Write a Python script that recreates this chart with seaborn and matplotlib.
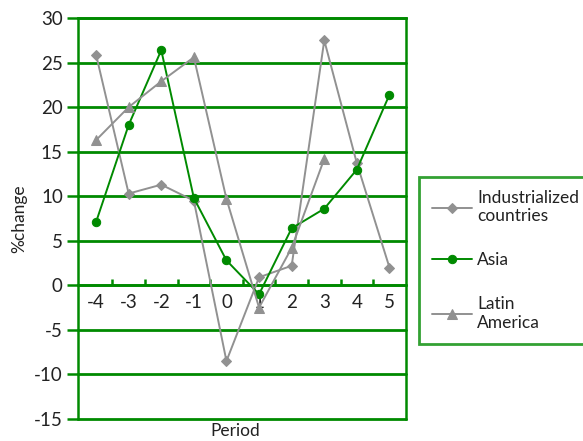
import numpy as np
import pandas as pd
import matplotlib
matplotlib.use("Agg")
import matplotlib.pyplot as plt
import seaborn as sns
from matplotlib.ticker import FixedLocator

periods = [-4, -3, -2, -1, 0, 1, 2, 3, 4, 5]
industrialized = [25.9, 10.3, 11.3, 9.5, -8.5, 0.9, 2.2, 27.5, 13.7, 2.0]
asia = [7.1, 18.0, 26.4, 9.8, 2.8, -1.0, 6.4, 8.6, 13.0, 21.4]
latin = [16.3, 20.0, 22.9, 25.6, 9.7, -2.5, 4.2, 14.2, np.nan, np.nan]

series_names = ["Industrialized\ncountries", "Asia", "Latin\nAmerica"]
y_ticks = [-15, -10, -5, 0, 5, 10, 15, 20, 25, 30]

GREEN = "#008a00"
GRAY = "#919191"
TXT = "#222222"

sns.set_theme(style="white")
plt.rcParams["font.family"] = ["Lato", "DejaVu Sans"]

fig = plt.figure(figsize=(5.83, 4.41), dpi=100)
ax = fig.add_axes([0.134, 0.050, 0.562, 0.909])

df = pd.DataFrame({
    "Period": periods * 3,
    "value": industrialized + asia + latin,
    "series": [series_names[0]] * 10 + [series_names[1]] * 10 + [series_names[2]] * 10,
})

styles = {
    series_names[0]: dict(color=GRAY, marker="D", ms=5),
    series_names[1]: dict(color=GREEN, marker="o", ms=6),
    series_names[2]: dict(color=GRAY, marker="^", ms=7),
}
for name in series_names:
    sub = df[df["series"] == name].dropna()
    st = styles[name]
    sns.lineplot(data=sub, x="Period", y="value", ax=ax, color=st["color"],
                 marker=st["marker"], markersize=st["ms"], markeredgecolor=st["color"],
                 linewidth=1.4, label=name, zorder=3, clip_on=False)

ax.set_xlim(-4.55, 5.5)
ax.set_ylim(-15, 30)
ax.set_yticks(y_ticks)
ax.set_xticks(periods)
ax.xaxis.set_minor_locator(FixedLocator([p + 0.5 for p in periods[:-1]]))

ax.yaxis.grid(True, color=GREEN, linewidth=2.0)
for gl in ax.get_ygridlines():
    gl.set_clip_on(False)
ax.set_axisbelow(True)

for s in ["left", "right", "top"]:
    ax.spines[s].set_color(GREEN)
    ax.spines[s].set_linewidth(1.8)
ax.spines["bottom"].set_position(("data", 0))
ax.spines["bottom"].set_color(GREEN)
ax.spines["bottom"].set_linewidth(1.8)

ax.tick_params(axis="y", which="major", length=8, width=1.8, color=GREEN,
               labelsize=13.5, labelcolor=TXT, pad=3, left=True)
ax.tick_params(axis="x", which="major", length=0, labelsize=13.5, labelcolor=TXT, pad=6)
ax.tick_params(axis="x", which="minor", direction="in", length=4, width=1.8,
               color=GREEN, bottom=True)
ax.set_xticklabels([str(p) for p in periods])
ax.set_yticklabels([str(t) for t in y_ticks])

ax.set_xlabel("Period", fontsize=12.5, color=TXT, va="top")
ax.xaxis.set_label_coords(0.48, -0.01)
ax.set_ylabel("%change", fontsize=12.5, color=TXT)
ax.yaxis.set_label_coords(-0.155, 0.50)

ax.get_legend().remove()
handles, labels = ax.get_legend_handles_labels()
leg = fig.legend(handles, labels, loc="upper left",
                 bbox_to_anchor=(0.719, 0.599), fontsize=12.5,
                 frameon=True, fancybox=False, handlelength=2.3,
                 borderpad=0.75, labelspacing=1.6, handletextpad=0.3,
                 borderaxespad=0)
fr = leg.get_frame()
fr.set_edgecolor(GREEN)
fr.set_linewidth(2)
for t in leg.get_texts():
    t.set_color(TXT)

fig.savefig("out.png", dpi=100)
